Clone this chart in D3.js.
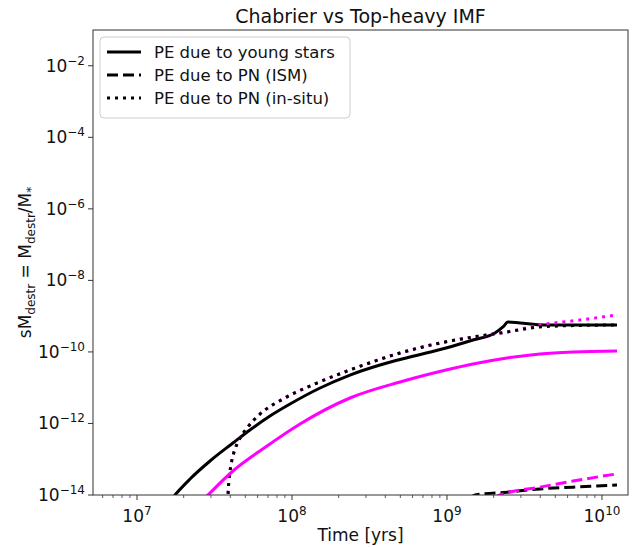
<!DOCTYPE html>
<html><head><meta charset="utf-8">
<script src="https://cdn.jsdelivr.net/npm/d3@7"></script>
<style>body{margin:0;background:#fff;} text{font-family:"DejaVu Sans",sans-serif;}</style>
</head><body>
<svg id="c" width="644" height="547"></svg>
<script>
// ---- data ----
const youngChabT = [1.517e7,1.758e7,2.198e7,2.958e7,4.158e7,5.354e7,7.21e7,9.71e7,1.517e8,2.366e8,3.70e8,5.77e8,9.86e8,1.472e9,2.04e9,2.298e9,2.476e9,2.96e9,4.29e9,1.25e10];
const youngChabV = [4.33e-15,1e-14,2.80e-14,8.93e-14,2.84e-13,6.57e-13,1.617e-12,3.50e-12,9.80e-12,2.26e-11,4.31e-11,7.21e-11,1.288e-10,2.155e-10,3.38e-10,4.98e-10,6.86e-10,6.43e-10,5.66e-10,5.66e-10];
const youngTopT = [2.547e7,2.871e7,4.158e7,6.90e7,1.127e8,2.366e8,4.98e8,9.86e8,1.472e9,2.438e9,3.98e9,6.50e9,1.25e10];
const youngTopV = [5.97e-15,1e-14,4.69e-14,2.34e-13,9.66e-13,5.15e-12,1.443e-11,3.12e-11,4.59e-11,6.76e-11,8.75e-11,9.95e-11,1.06e-10];
const pnInsituT = [3.84e7,3.866e7,3.923e7,4.04e7,4.225e7,4.485e7,5.13e7,6.22e7,8.75e7,1.449e8,2.366e8,4.98e8,9.02e8,1.472e9,2.438e9,3.98e9,7.21e9,1.25e10];
const pnInsituChabV = [3.8e-15,1e-14,2.62e-14,6.90e-14,1.59e-13,3.03e-13,7.47e-13,1.837e-12,4.83e-12,1.352e-11,3.12e-11,9.33e-11,1.775e-10,2.61e-10,3.61e-10,4.98e-10,5.5e-10,5.66e-10];
const pnInsituTopV = [3.8e-15,1e-14,2.62e-14,6.90e-14,1.59e-13,3.03e-13,7.47e-13,1.837e-12,4.83e-12,1.352e-11,3.12e-11,9.33e-11,1.775e-10,2.61e-10,3.61e-10,5.66e-10,7.8e-10,1.076e-9];
const pnIsmChabT = [1.4e9,1.52e9,2.44e9,3.98e9,6.5e9,1.25e10];
const pnIsmChabV = [8e-15,1e-14,1.2e-14,1.48e-14,1.66e-14,1.9e-14];
const pnIsmTopT = [2.0e9,2.2e9,3.98e9,6.5e9,1.25e10];
const pnIsmTopV = [8e-15,1e-14,1.66e-14,2.45e-14,3.9e-14];
const xTicks = [1e7,1e8,1e9,1e10];
const xTickExp = ["7","8","9","10"];
const yTicks = [1e-2,1e-4,1e-6,1e-8,1e-10,1e-12,1e-14];
const yTickExp = ["−2","−4","−6","−8","−10","−12","−14"];
const legendLabels = ["PE due to young stars","PE due to PN (ISM)","PE due to PN (in-situ)"];
const colors = {chab:"#000000", top:"#ff00ff"};

// ---- layout ----
const L=93, R=628, T=30, B=495;
const svg = d3.select("#c");
const x = d3.scaleLog().domain([Math.pow(10,6.716),Math.pow(10,10.168)]).range([L,R]);
const y = d3.scaleLog().domain([1e-14,1e-1]).range([B,T]);

svg.append("defs").append("clipPath").attr("id","clip")
  .append("rect").attr("x",L).attr("y",T).attr("width",R-L).attr("height",B-T);

const line = d3.line().x(d=>x(d[0])).y(d=>y(d[1])).curve(d3.curveMonotoneX);
const g = svg.append("g").attr("clip-path","url(#clip)");
function draw(ts, vs, color, dash){
  const p = g.append("path").datum(ts.map((t,i)=>[t,vs[i]]))
    .attr("d",line).attr("fill","none").attr("stroke",color).attr("stroke-width",3);
  if(dash) p.attr("stroke-dasharray",dash);
}
draw(youngChabT,youngChabV,colors.chab,null);
draw(pnIsmChabT,pnIsmChabV,colors.chab,"11,5");
draw(pnInsituT,pnInsituTopV,colors.top,"3,5");
draw(pnInsituT,pnInsituChabV,colors.chab,"3,5");
draw(youngTopT,youngTopV,colors.top,null);
draw(pnIsmTopT,pnIsmTopV,colors.top,"11,5");

// ---- axes ----
const axColor="#333";
const xg = svg.append("g").attr("transform",`translate(0,${B})`);
const minor=[];
for(let e=6;e<=10;e++) for(let m=2;m<=9;m++){const v=m*Math.pow(10,e); if(v>=x.domain()[0]&&v<=x.domain()[1]) minor.push(v);}
xg.selectAll("line.minor").data(minor).enter().append("line")
  .attr("x1",d=>x(d)).attr("x2",d=>x(d)).attr("y1",0).attr("y2",3).attr("stroke",axColor).attr("stroke-width",0.8);
xg.selectAll("line.major").data(xTicks).enter().append("line")
  .attr("x1",d=>x(d)).attr("x2",d=>x(d)).attr("y1",0).attr("y2",5).attr("stroke",axColor).attr("stroke-width",1);
const xl = xg.selectAll("text.tl").data(xTicks).enter().append("text")
  .attr("x",d=>x(d)).attr("y",27).attr("text-anchor","middle").attr("font-size",17).attr("fill","#111");
xl.append("tspan").text("10");
xl.append("tspan").attr("dy",-7).attr("font-size",12).text((d,i)=>xTickExp[i]);

const yg = svg.append("g");
yg.selectAll("line.major").data(yTicks).enter().append("line")
  .attr("x1",L-5).attr("x2",L).attr("y1",d=>y(d)).attr("y2",d=>y(d)).attr("stroke",axColor).attr("stroke-width",1);
const yl = yg.selectAll("text.tl").data(yTicks).enter().append("text")
  .attr("x",L-8).attr("y",d=>y(d)+6).attr("text-anchor","end").attr("font-size",17).attr("fill","#111");
yl.append("tspan").text("10");
yl.append("tspan").attr("dy",-7).attr("font-size",12).text((d,i)=>yTickExp[i]);

svg.append("rect").attr("x",L).attr("y",T).attr("width",R-L).attr("height",B-T)
  .attr("fill","none").attr("stroke",axColor).attr("stroke-width",1);

svg.append("text").attr("x",(L+R)/2).attr("y",23).attr("text-anchor","middle").attr("font-size",19).attr("fill","#111").text("Chabrier vs Top-heavy IMF");
svg.append("text").attr("x",(L+R)/2).attr("y",541).attr("text-anchor","middle").attr("font-size",17).attr("fill","#111").text("Time [yrs]");
const ylab = svg.append("text").attr("transform",`translate(31,${(T+B)/2}) rotate(-90)`).attr("text-anchor","middle").attr("font-size",17).attr("fill","#111");
ylab.append("tspan").text("sM");
ylab.append("tspan").attr("dy",4).attr("font-size",12).text("destr");
ylab.append("tspan").attr("dy",-4).text(" = M");
ylab.append("tspan").attr("dy",4).attr("font-size",12).text("destr");
ylab.append("tspan").attr("dy",-4).text("/M");
ylab.append("tspan").attr("dy",4).attr("font-size",12).text("*");

const lg = svg.append("g");
lg.append("rect").attr("x",100).attr("y",37).attr("width",250).attr("height",81).attr("rx",4)
  .attr("fill","#fff").attr("fill-opacity",0.8).attr("stroke","#ccc").attr("stroke-width",1);
const dashes=[null,"11,5","3,5"];
legendLabels.forEach((lab,i)=>{
  const yy=52+i*23;
  const l=lg.append("line").attr("x1",107).attr("x2",141).attr("y1",yy).attr("y2",yy).attr("stroke","#000").attr("stroke-width",3);
  if(dashes[i]) l.attr("stroke-dasharray",dashes[i]);
  lg.append("text").attr("x",154).attr("y",yy+6).attr("font-size",16.5).attr("fill","#111").text(lab);
});
</script>
</body></html>
